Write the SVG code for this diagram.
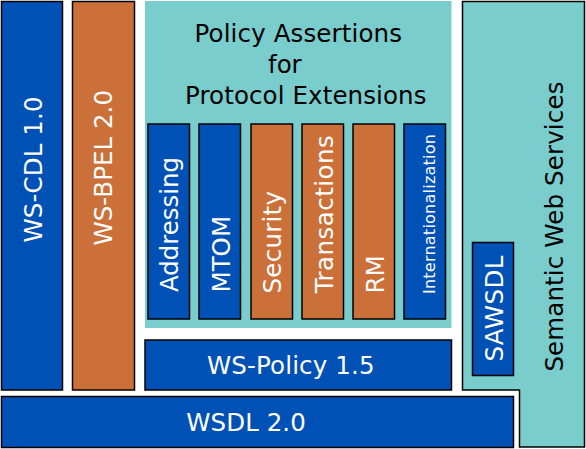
<svg xmlns="http://www.w3.org/2000/svg" width="586" height="449" viewBox="0 0 586 449">
<style>
  .blue { fill: #0051B5; stroke: #000; stroke-width: 1.5; }
  .orange { fill: #CC703A; stroke: #000; stroke-width: 1.5; }
  .cyan { fill: #7ACDCD; stroke: #000; stroke-width: 1.5; }
  .bg { fill: #7ACDCD; }
  text { font-family: "DejaVu Sans", Verdana, sans-serif; font-size: 24.5px; }
  .w { fill: #fff; }
  .k { fill: #000; }
  .sm { font-size: 16px; }
</style>
<rect width="586" height="449" fill="#fff"/>
<g id="ws-cdl">
  <rect class="blue" x="1.5" y="1.5" width="61" height="388.5"/>
  <text class="w" transform="translate(41.5,242.5) rotate(-90)" textLength="146" lengthAdjust="spacing">WS-CDL 1.0</text>
</g>
<g id="ws-bpel">
  <rect class="orange" x="72.5" y="1.5" width="62" height="388.5"/>
  <text class="w" transform="translate(112,245.5) rotate(-90)" textLength="155.5" lengthAdjust="spacing">WS-BPEL 2.0</text>
</g>
<g id="policy-assertions">
  <rect class="bg" x="145" y="1" width="306.5" height="327"/>
  <text class="k" x="194.5" y="41.5" textLength="207.5" lengthAdjust="spacing">Policy Assertions</text>
  <text class="k" x="268" y="73">for</text>
  <text class="k" x="185" y="104" textLength="241.5" lengthAdjust="spacing">Protocol Extensions</text>
</g>
<g id="addressing">
  <rect class="blue" x="148" y="124" width="41.5" height="195"/>
  <text class="w" transform="translate(178,292) rotate(-90)" textLength="135" lengthAdjust="spacing">Addressing</text>
</g>
<g id="mtom">
  <rect class="blue" x="199" y="124" width="41.5" height="195"/>
  <text class="w" transform="translate(229.5,292.5) rotate(-90)">MTOM</text>
</g>
<g id="security">
  <rect class="orange" x="251" y="124" width="41.5" height="195"/>
  <text class="w" transform="translate(281,293.5) rotate(-90)" textLength="102.5" lengthAdjust="spacing">Security</text>
</g>
<g id="transactions">
  <rect class="orange" x="302" y="124" width="41.5" height="195"/>
  <text class="w" transform="translate(332.5,293.3) rotate(-90)" textLength="158" lengthAdjust="spacing">Transactions</text>
</g>
<g id="rm">
  <rect class="orange" x="353" y="124" width="41.5" height="195"/>
  <text class="w" transform="translate(383.5,293.5) rotate(-90)">RM</text>
</g>
<g id="internationalization">
  <rect class="blue" x="404" y="124" width="41.5" height="195"/>
  <text class="w sm" transform="translate(435,294) rotate(-90)" textLength="160" lengthAdjust="spacing">Internationalization</text>
</g>
<g id="ws-policy">
  <rect class="blue" x="145" y="340" width="306.5" height="50"/>
  <text class="w" x="207" y="374" textLength="167.5" lengthAdjust="spacing">WS-Policy 1.5</text>
</g>
<g id="wsdl">
  <rect class="blue" x="1.5" y="396.5" width="512" height="51"/>
  <text class="w" x="186.3" y="430.5" textLength="119.5" lengthAdjust="spacing">WSDL 2.0</text>
</g>
<g id="semantic-web-services">
  <polygon class="cyan" points="462.5,1.5 584.5,1.5 584.5,447 519.5,447 519.5,390 462.5,390"/>
  <text class="k" transform="translate(563,371.6) rotate(-90)" textLength="290" lengthAdjust="spacing">Semantic Web Services</text>
</g>
<g id="sawsdl">
  <rect class="blue" x="472.5" y="242.5" width="41" height="133"/>
  <text class="w" transform="translate(503,361.6) rotate(-90)" textLength="106" lengthAdjust="spacing">SAWSDL</text>
</g>
<g id="connectors"></g>
</svg>
